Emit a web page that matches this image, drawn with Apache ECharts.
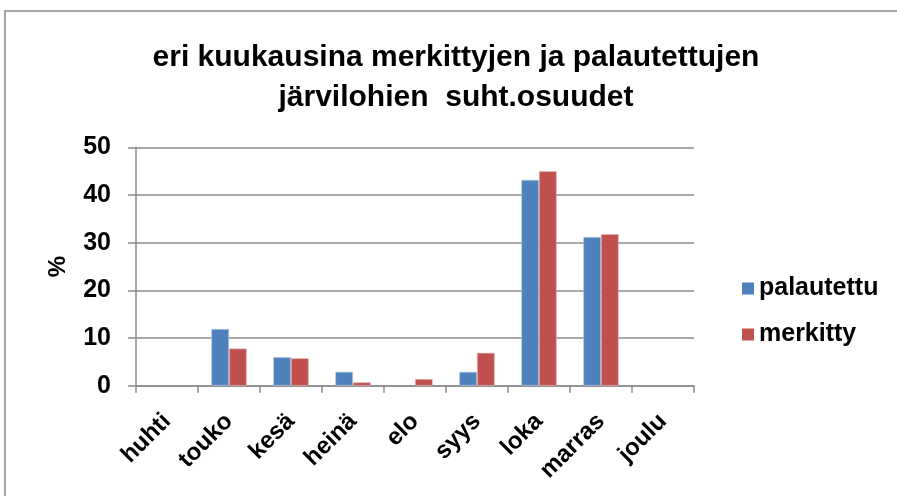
<!DOCTYPE html>
<html><head><meta charset="utf-8">
<script src="https://cdn.jsdelivr.net/npm/echarts@6/dist/echarts.min.js"></script>
<style>html,body{margin:0;padding:0;background:#fff}#c{width:897px;height:496px}</style>
</head><body><div id="c"></div>
<script>
const categories = ['huhti','touko','kesä','heinä','elo','syys','loka','marras','joulu'];
const palautettu = [null, 11.9, 6.0, 2.9, null, 2.9, 43.2, 31.2, null];
const merkitty = [null, 7.8, 5.75, 0.7, 1.4, 6.9, 45.0, 31.8, null];
const yTicks = {min: 0, max: 50, interval: 10};
const FONT = '"Liberation Sans", Arial, sans-serif';
const chart = echarts.init(document.getElementById('c'));
chart.setOption({
  animation: false,
  backgroundColor: '#fff',
  title: {
    text: 'eri kuukausina merkittyjen ja palautettujen\njärvilohien  suht.osuudet',
    left: 451, top: 33, textAlign: 'center',
    textStyle: {fontFamily: FONT, fontWeight: 'bold', fontSize: 30, lineHeight: 40, color: '#000'}
  },
  legend: {
    orient: 'vertical', left: 737, top: 271, itemWidth: 12, itemHeight: 12, itemGap: 21,
    icon: 'rect', itemStyle: {borderWidth: 0},
    textStyle: {fontFamily: FONT, fontWeight: 'bold', fontSize: 25, color: '#000'}
  },
  graphic: [{type: 'rect', shape: {x: 5, y: 11, width: 1000, height: 600},
    style: {fill: 'none', stroke: '#888', lineWidth: 1.5}, silent: true}],
  grid: {left: 136, right: 203, top: 147.5, bottom: 110.3, containLabel: false},
  xAxis: {
    type: 'category', data: categories,
    axisLine: {lineStyle: {color: '#8c8c8c', width: 1.5}},
    axisTick: {show: true, length: 7, lineStyle: {color: '#8c8c8c', width: 1.5}},
    axisLabel: {rotate: 45, margin: 32, fontFamily: FONT, fontWeight: 'bold', fontSize: 24, color: '#000', interval: 0}
  },
  yAxis: {
    type: 'value', min: yTicks.min, max: yTicks.max, interval: yTicks.interval,
    name: '%', nameLocation: 'middle', nameGap: 66, nameRotate: 90,
    nameTextStyle: {fontFamily: FONT, fontWeight: 'bold', fontSize: 24, color: '#000'},
    axisLine: {show: true, lineStyle: {color: '#8c8c8c', width: 1.5}},
    axisTick: {show: true, length: 8, lineStyle: {color: '#8c8c8c', width: 1.5}},
    splitLine: {lineStyle: {color: '#8c8c8c', width: 1.5}},
    axisLabel: {margin: 25, fontFamily: FONT, fontWeight: 'bold', fontSize: 25, color: '#000'}
  },
  series: [
    {name: 'palautettu', type: 'bar', data: palautettu, barGap: '0%', barCategoryGap: '43%',
     itemStyle: {color: '#4F81BD', borderColor: '#b9cde5', borderWidth: 0.6}},
    {name: 'merkitty', type: 'bar', data: merkitty,
     itemStyle: {color: '#C0504D', borderColor: '#e6b9b8', borderWidth: 0.6}}
  ]
});
</script></body></html>
